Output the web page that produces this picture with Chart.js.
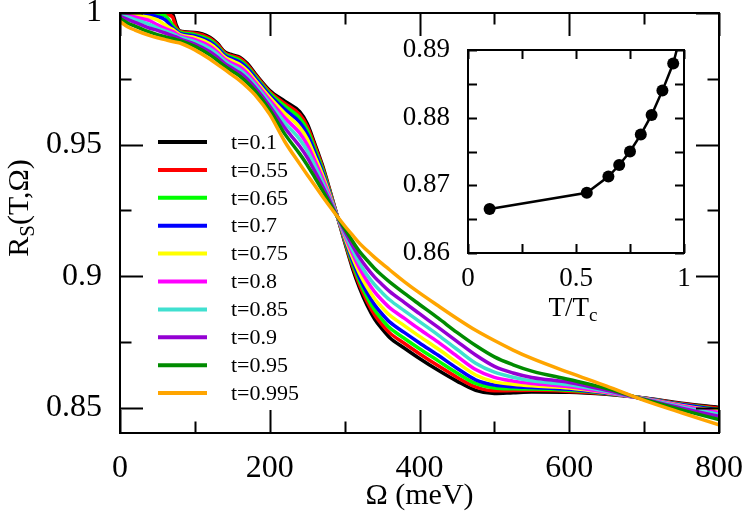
<!DOCTYPE html>
<html>
<head>
<meta charset="utf-8">
<title>R_S(T, Omega)</title>
<script src="https://cdn.jsdelivr.net/npm/chart.js@4.4.1/dist/chart.umd.min.js"></script>
<style>
  html, body { margin: 0; padding: 0; background: #fff; }
  #wrap { position: relative; width: 747px; height: 513px; overflow: hidden; }
  #main { position: absolute; left: 0; top: 0; }
  #inset { position: absolute; left: 390px; top: 30px; }
</style>
</head>
<body>
<div id="wrap">
  <canvas id="main" width="747" height="513"></canvas>
  <canvas id="inset" width="310" height="300"></canvas>
</div>
<script>
/* --- data --- */
const omega = [0, 10, 20, 30, 40, 50, 60, 70, 75, 80,
  100, 120, 130, 140, 150, 160, 170, 180,
  200, 220, 240, 250, 260, 270, 280, 290,
  300, 310, 320, 330, 340, 350, 360, 380,
  400, 425, 450, 475, 500, 525, 550,
  600, 650, 700, 750, 800];

const rsT010 = [1.0000, 1.0000, 1.0000, 1.0000, 1.0000, 1.0000, 1.0000, 0.9998, 0.9955, 0.9932,
  0.9926, 0.9908, 0.9885, 0.9852, 0.9841, 0.9832, 0.9808, 0.9772,
  0.9706, 0.9665, 0.9625, 0.9580, 0.9505, 0.9425, 0.9330, 0.9230,
  0.9130, 0.9035, 0.8955, 0.8890, 0.8838, 0.8800, 0.8768, 0.8727,
  0.8688, 0.8643, 0.8602, 0.8567, 0.8555, 0.8558, 0.8561,
  0.8560, 0.8552, 0.8538, 0.8518, 0.8502];
const rsT055 = [1.0000, 1.0000, 1.0000, 1.0000, 0.9999, 0.9998, 0.9996, 0.9985, 0.9945, 0.9930,
  0.9923, 0.9904, 0.9881, 0.9849, 0.9837, 0.9828, 0.9804, 0.9768,
  0.9701, 0.9657, 0.9615, 0.9570, 0.9497, 0.9419, 0.9327, 0.9230,
  0.9134, 0.9044, 0.8967, 0.8905, 0.8854, 0.8817, 0.8786, 0.8745,
  0.8706, 0.8660, 0.8617, 0.8580, 0.8565, 0.8566, 0.8567,
  0.8563, 0.8554, 0.8538, 0.8516, 0.8499];
const rsT065 = [0.9999, 0.9999, 0.9998, 0.9997, 0.9996, 0.9994, 0.9990, 0.9955, 0.9938, 0.9927,
  0.9918, 0.9898, 0.9875, 0.9844, 0.9832, 0.9821, 0.9797, 0.9762,
  0.9695, 0.9647, 0.9601, 0.9557, 0.9486, 0.9411, 0.9322, 0.9230,
  0.9139, 0.9053, 0.8980, 0.8920, 0.8872, 0.8836, 0.8805, 0.8764,
  0.8725, 0.8679, 0.8633, 0.8593, 0.8576, 0.8573, 0.8572,
  0.8567, 0.8555, 0.8537, 0.8514, 0.8495];
const rsT070 = [0.9998, 0.9997, 0.9996, 0.9994, 0.9991, 0.9986, 0.9975, 0.9945, 0.9933, 0.9923,
  0.9913, 0.9891, 0.9869, 0.9839, 0.9826, 0.9814, 0.9790, 0.9756,
  0.9688, 0.9634, 0.9585, 0.9541, 0.9473, 0.9401, 0.9317, 0.9230,
  0.9144, 0.9063, 0.8994, 0.8938, 0.8892, 0.8857, 0.8827, 0.8786,
  0.8747, 0.8700, 0.8651, 0.8607, 0.8587, 0.8581, 0.8578,
  0.8571, 0.8556, 0.8537, 0.8513, 0.8492];
const rsT075 = [0.9997, 0.9995, 0.9992, 0.9988, 0.9983, 0.9974, 0.9955, 0.9938, 0.9928, 0.9918,
  0.9906, 0.9883, 0.9861, 0.9832, 0.9818, 0.9805, 0.9781, 0.9747,
  0.9679, 0.9619, 0.9566, 0.9522, 0.9457, 0.9389, 0.9311, 0.9229,
  0.9150, 0.9076, 0.9011, 0.8959, 0.8915, 0.8882, 0.8853, 0.8812,
  0.8772, 0.8724, 0.8673, 0.8625, 0.8599, 0.8590, 0.8584,
  0.8576, 0.8558, 0.8536, 0.8510, 0.8488];
const rsT080 = [0.9995, 0.9991, 0.9985, 0.9978, 0.9970, 0.9955, 0.9942, 0.9930, 0.9922, 0.9913,
  0.9899, 0.9874, 0.9852, 0.9825, 0.9809, 0.9796, 0.9771, 0.9738,
  0.9669, 0.9602, 0.9544, 0.9500, 0.9440, 0.9376, 0.9304, 0.9229,
  0.9157, 0.9089, 0.9030, 0.8982, 0.8941, 0.8909, 0.8881, 0.8840,
  0.8799, 0.8750, 0.8697, 0.8646, 0.8616, 0.8602, 0.8593,
  0.8581, 0.8560, 0.8535, 0.8508, 0.8483];
const rsT085 = [0.9992, 0.9985, 0.9975, 0.9966, 0.9956, 0.9943, 0.9932, 0.9922, 0.9915, 0.9908,
  0.9891, 0.9864, 0.9843, 0.9817, 0.9800, 0.9785, 0.9760, 0.9729,
  0.9658, 0.9584, 0.9520, 0.9477, 0.9421, 0.9361, 0.9296, 0.9229,
  0.9164, 0.9103, 0.9049, 0.9005, 0.8968, 0.8938, 0.8911, 0.8869,
  0.8828, 0.8777, 0.8723, 0.8670, 0.8636, 0.8617, 0.8603,
  0.8588, 0.8563, 0.8534, 0.8504, 0.8476];
const rsT090 = [0.9988, 0.9976, 0.9964, 0.9953, 0.9942, 0.9934, 0.9924, 0.9914, 0.9909, 0.9902,
  0.9882, 0.9853, 0.9832, 0.9808, 0.9790, 0.9773, 0.9749, 0.9718,
  0.9646, 0.9564, 0.9494, 0.9452, 0.9400, 0.9346, 0.9288, 0.9229,
  0.9172, 0.9119, 0.9071, 0.9031, 0.8997, 0.8969, 0.8943, 0.8900,
  0.8858, 0.8806, 0.8753, 0.8701, 0.8658, 0.8633, 0.8616,
  0.8597, 0.8567, 0.8533, 0.8499, 0.8468];
const rsT095 = [0.9980, 0.9962, 0.9950, 0.9938, 0.9927, 0.9918, 0.9910, 0.9903, 0.9899, 0.9895,
  0.9873, 0.9841, 0.9820, 0.9798, 0.9779, 0.9760, 0.9735, 0.9706,
  0.9632, 0.9541, 0.9465, 0.9423, 0.9376, 0.9328, 0.9278, 0.9228,
  0.9181, 0.9136, 0.9094, 0.9061, 0.9030, 0.9003, 0.8979, 0.8935,
  0.8893, 0.8841, 0.8787, 0.8737, 0.8694, 0.8664, 0.8640,
  0.8608, 0.8574, 0.8532, 0.8493, 0.8456];
const rsT0995 = [0.9968, 0.9948, 0.9935, 0.9924, 0.9914, 0.9906, 0.9899, 0.9892, 0.9889, 0.9886,
  0.9860, 0.9825, 0.9805, 0.9785, 0.9764, 0.9743, 0.9718, 0.9690,
  0.9615, 0.9512, 0.9427, 0.9386, 0.9346, 0.9305, 0.9266, 0.9228,
  0.9192, 0.9158, 0.9125, 0.9098, 0.9072, 0.9048, 0.9025, 0.8979,
  0.8937, 0.8888, 0.8840, 0.8795, 0.8756, 0.8720, 0.8688,
  0.8634, 0.8583, 0.8529, 0.8482, 0.8436];

const seriesLabels = ['t=0.1', 't=0.55', 't=0.65', 't=0.7', 't=0.75',
  't=0.8', 't=0.85', 't=0.9', 't=0.95', 't=0.995'];
const series = [rsT010, rsT055, rsT065, rsT070, rsT075, rsT080, rsT085, rsT090, rsT095, rsT0995];

// inset: R_S at fixed Omega vs T/Tc (last point sits above the frame)
const insetT  = [0.1, 0.55, 0.65, 0.7, 0.75, 0.8, 0.85, 0.9, 0.95, 0.995];
const insetRs = [0.8665, 0.8689, 0.8713, 0.8730, 0.8750, 0.8775, 0.8804, 0.8840, 0.8880, 0.8935];

// ticks
const xTicks = [0, 200, 400, 600, 800];
const xMinor = [100, 300, 500, 700];
const yTicks = [0.85, 0.9, 0.95, 1];
const yMinor = [0.875, 0.925, 0.975];
const insetXTicks = [0, 0.5, 1];
const insetXMinor = [0.25, 0.75];
const insetYTicks = [0.86, 0.87, 0.88, 0.89];
const insetYMinor = [0.865, 0.875, 0.885];

const colors = ['#000000', '#ff0000', '#00ff00', '#0000ff', '#ffff00',
  '#ff00ff', '#40e0d0', '#9400d3', '#008b00', '#ffa500'];

const SERIF = '"Liberation Serif", "DejaVu Serif", serif';
Chart.defaults.font.family = SERIF;
Chart.defaults.color = '#000';

/* --- inward ticks on all four sides + frame --- */
const frameTicks = {
  id: 'frameTicks',
  afterDatasetsDraw(chart, args, o) {
    const { ctx, chartArea: a, scales: { x, y } } = chart;
    ctx.save();
    ctx.strokeStyle = '#000';
    ctx.lineWidth = o.lw;
    ctx.beginPath();
    const vx = (list, len) => list.forEach(v => {
      const px = Math.round(x.getPixelForValue(v)) + 0.5;
      ctx.moveTo(px, a.bottom); ctx.lineTo(px, a.bottom - len);
      ctx.moveTo(px, a.top);    ctx.lineTo(px, a.top + len);
    });
    const hy = (list, len) => list.forEach(v => {
      const py = Math.round(y.getPixelForValue(v)) + 0.5;
      ctx.moveTo(a.left, py);  ctx.lineTo(a.left + len, py);
      ctx.moveTo(a.right, py); ctx.lineTo(a.right - len, py);
    });
    vx(o.xMajor, o.major); vx(o.xMinor, o.minor);
    hy(o.yMajor, o.major); hy(o.yMinor, o.minor);
    ctx.stroke();
    ctx.strokeRect(a.left, a.top, a.right - a.left, a.bottom - a.top);
    ctx.restore();
  }
};

/* --- legend, axis titles for the main plot --- */
const mainDecor = {
  id: 'mainDecor',
  afterDraw(chart) {
    const { ctx } = chart;
    ctx.save();
    // legend
    ctx.font = '22px ' + SERIF;
    ctx.textBaseline = 'middle';
    chart.data.datasets.forEach((ds, i) => {
      const yy = 142 + i * 27.9;
      ctx.strokeStyle = ds.borderColor;
      ctx.lineWidth = 4;
      ctx.beginPath(); ctx.moveTo(158, yy); ctx.lineTo(207, yy); ctx.stroke();
      ctx.fillStyle = '#000';
      ctx.fillText(ds.label, 231, yy + 1);
    });

    // x title
    ctx.font = '30px ' + SERIF;
    ctx.textAlign = 'center';
    ctx.textBaseline = 'alphabetic';
    ctx.fillText('\u03A9 (meV)', (chart.chartArea.left + chart.chartArea.right) / 2, 504);

    // y title R_S(T,Omega), rotated
    ctx.translate(28, 208);
    ctx.rotate(-Math.PI / 2);
    ctx.textAlign = 'left';
    const big = '30px ' + SERIF, small = '21px ' + SERIF;
    ctx.font = big;  const wR = ctx.measureText('R').width, wP = ctx.measureText('(T,\u03A9)').width;
    ctx.font = small; const wS = ctx.measureText('S').width;
    let cx = -(wR + wS + wP) / 2;
    ctx.font = big;  ctx.fillText('R', cx, 0); cx += wR;
    ctx.font = small; ctx.fillText('S', cx, 6); cx += wS;
    ctx.font = big;  ctx.fillText('(T,\u03A9)', cx, 0);
    ctx.restore();
  }
};

const noEdgePad = s => { s.paddingTop = 0; s.paddingBottom = 0; s.paddingLeft = 0; s.paddingRight = 0; };

new Chart(document.getElementById('main'), {
  type: 'line',
  data: {
    datasets: series.map((vals, i) => ({
      label: seriesLabels[i],
      data: vals.map((v, k) => ({ x: omega[k], y: v })),
      borderColor: colors[i],
      borderWidth: 3.5,
      pointRadius: 0,
      cubicInterpolationMode: 'monotone',
      order: series.length - i
    }))
  },
  options: {
    responsive: false,
    animation: false,
    events: [],
    layout: { padding: { left: 0, top: 13, right: 28, bottom: 0 } },
    plugins: {
      legend: { display: false }, tooltip: { enabled: false },
      frameTicks: { lw: 2, major: 23, minor: 11.5,
        xMajor: xTicks, xMinor: xMinor, yMajor: yTicks, yMinor: yMinor }
    },
    scales: {
      x: {
        type: 'linear', min: 0, max: 800,
        grid: { display: false }, border: { display: false },
        afterBuildTicks: s => { s.ticks = xTicks.map(v => ({ value: v })); },
        afterFit: s => { s.height = 80; noEdgePad(s); },
        ticks: { padding: 8, font: { family: 'Liberation Serif', size: 32 }, color: '#000',
          maxRotation: 0, autoSkip: false, callback: v => String(v) }
      },
      y: {
        type: 'linear', min: 0.8405, max: 1,
        grid: { display: false }, border: { display: false },
        afterBuildTicks: s => { s.ticks = yTicks.map(v => ({ value: v })); },
        afterFit: s => { s.width = 120; noEdgePad(s); },
        ticks: { padding: 10, font: { family: 'Liberation Serif', size: 32 }, color: '#000',
          autoSkip: false, callback: v => String(+v.toFixed(3)) }
      }
    }
  },
  plugins: [frameTicks, mainDecor]
});

/* --- inset --- */
const insetDecor = {
  id: 'insetDecor',
  afterDraw(chart) {
    const { ctx, chartArea: a } = chart;
    ctx.save();
    ctx.fillStyle = '#000';
    ctx.textBaseline = 'alphabetic';
    const big = '27px ' + SERIF, small = '19px ' + SERIF;
    ctx.font = big;  const w1 = ctx.measureText('T/T').width;
    ctx.font = small; const w2 = ctx.measureText('c').width;
    let cx = (a.left + a.right) / 2 - (w1 + w2) / 2 - 3;
    ctx.font = big;  ctx.fillText('T/T', cx, 286);
    ctx.font = small; ctx.fillText('c', cx + w1, 291);
    ctx.restore();
  }
};

new Chart(document.getElementById('inset'), {
  type: 'line',
  data: {
    datasets: [{
      data: insetT.map((t, i) => ({ x: t, y: insetRs[i] })),
      borderColor: '#000', backgroundColor: '#000',
      borderWidth: 2.5, pointRadius: 6, pointBorderWidth: 0,
      tension: 0
    }]
  },
  options: {
    responsive: false,
    animation: false,
    events: [],
    layout: { padding: { left: 0, top: 20, right: 16, bottom: 0 } },
    plugins: {
      legend: { display: false }, tooltip: { enabled: false },
      frameTicks: { lw: 2, major: 9, minor: 9,
        xMajor: insetXTicks, xMinor: insetXMinor, yMajor: insetYTicks, yMinor: insetYMinor }
    },
    scales: {
      x: {
        type: 'linear', min: 0, max: 1,
        grid: { display: false }, border: { display: false },
        afterBuildTicks: s => { s.ticks = insetXTicks.map(v => ({ value: v })); },
        afterFit: s => { s.height = 77; noEdgePad(s); },
        ticks: { padding: 2, font: { family: 'Liberation Serif', size: 27 }, color: '#000',
          maxRotation: 0, autoSkip: false, callback: v => String(v) }
      },
      y: {
        type: 'linear', min: 0.86, max: 0.89,
        grid: { display: false }, border: { display: false },
        afterBuildTicks: s => { s.ticks = insetYTicks.map(v => ({ value: v })); },
        afterFit: s => { s.width = 78; noEdgePad(s); },
        ticks: { padding: 10, font: { family: 'Liberation Serif', size: 27 }, color: '#000',
          autoSkip: false, callback: v => String(+v.toFixed(3)) }
      }
    }
  },
  plugins: [frameTicks, insetDecor]
});
</script>
</body>
</html>
